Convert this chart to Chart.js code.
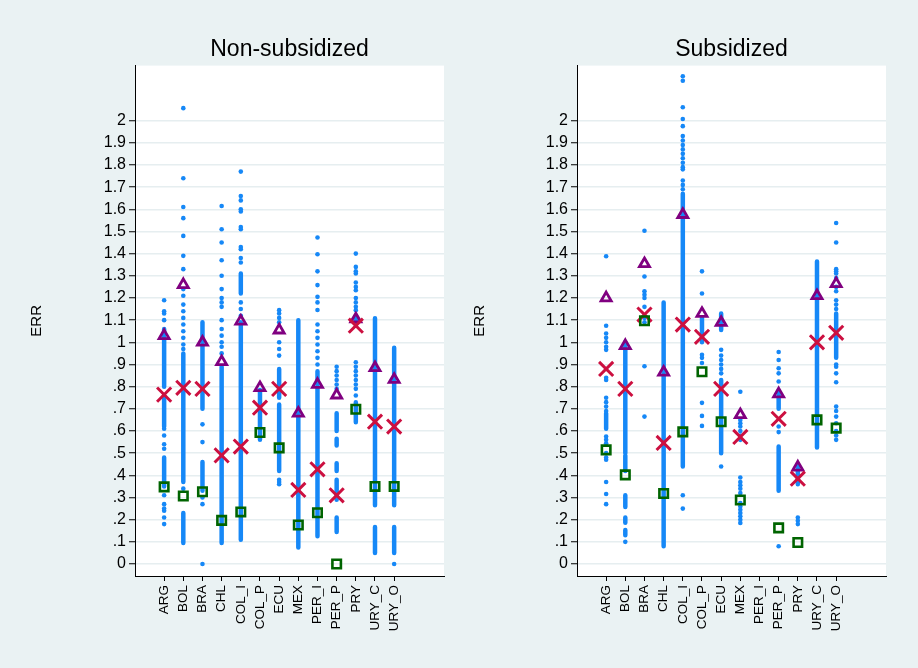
<!DOCTYPE html>
<html lang="en">
<head>
    <meta charset="UTF-8">
    <title>ERR by country</title>
    <script src="https://cdn.jsdelivr.net/npm/chart.js@4.4.1/dist/chart.umd.min.js"></script>
    <style>
        body {
            margin: 0;
            background: #eaf2f3;
        }

        .wrap {
            position: relative;
            width: 918px;
            height: 668px;
            background: #eaf2f3;
        }

        .wrap canvas {
            position: absolute;
            top: 0;
        }
    </style>
</head>
<body>
    <div class="wrap">
        <canvas id="left" width="459" height="668" style="left:0"></canvas>
        <canvas id="right" width="459" height="668" style="left:459px"></canvas>
    </div>

    <script>
        const categories = ['ARG', 'BOL', 'BRA', 'CHL', 'COL_I', 'COL_P', 'ECU', 'MEX', 'PER_I', 'PER_P', 'PRY', 'URY_C', 'URY_O'];
        const yTicks = [0, 0.1, 0.2, 0.3, 0.4, 0.5, 0.6, 0.7, 0.8, 0.9, 1, 1.1, 1.2, 1.3, 1.4, 1.5, 1.6, 1.7, 1.8, 1.9, 2];
        const yLabels = ['0', '.1', '.2', '.3', '.4', '.5', '.6', '.7', '.8', '.9', '1', '1.1', '1.2', '1.3', '1.4', '1.5', '1.6', '1.7', '1.8', '1.9', '2'];

        // Non-subsidized
        const nsTriangle = [1.03, 1.26, 1.00, 0.912, 1.095, 0.795, 1.055, 0.68, 0.81, 0.762, 1.105, 0.885, 0.832];
        const nsCross = [0.764, 0.795, 0.79, 0.49, 0.53, 0.705, 0.79, 0.334, 0.427, 0.31, 1.075, 0.642, 0.62];
        const nsSquare = [0.348, 0.307, 0.326, 0.197, 0.235, 0.593, 0.524, 0.176, 0.231, 0.0, 0.698, 0.35, 0.35];
        // dense runs of observations, [low, high]
        const nsRuns = [
            [[0.80, 1.06], [0.62, 0.76], [0.35, 0.48]],
            [[0.37, 0.95], [0.095, 0.23]],
            [[0.70, 1.09], [0.33, 0.46]],
            [[0.095, 0.89]],
            [[0.11, 1.09], [1.22, 1.31]],
            [[0.56, 0.785]],
            [[0.75, 0.88], [0.42, 0.72]],
            [[0.075, 1.10]],
            [[0.125, 0.87]],
            [[0.60, 0.68], [0.535, 0.565], [0.42, 0.455], [0.29, 0.38], [0.145, 0.21]],
            [[0.64, 0.73], [1.09, 1.12]],
            [[0.265, 1.108], [0.05, 0.167]],
            [[0.265, 0.975], [0.05, 0.167]]
        ];
        // separate observations
        const nsObs = [
            [1.19, 1.14, 1.13, 1.10, 0.61, 0.58, 0.54, 0.52, 0.31, 0.27, 0.25, 0.24, 0.21, 0.18],
            [2.056, 1.74, 1.61, 1.56, 1.48, 1.39, 1.33, 1.24, 1.21, 1.17, 1.14, 1.11, 1.08, 1.05, 1.02, 0.99, 0.97, 0.34],
            [0.63, 0.55, 0.30, 0.27, 0.0],
            [1.615, 1.51, 1.45, 1.37, 1.30, 1.24, 1.20, 1.18, 1.16, 1.10, 1.06, 1.03, 1.0, 0.98, 0.95],
            [1.77, 1.66, 1.64, 1.60, 1.59, 1.52, 1.51, 1.43, 1.42, 1.38, 1.36, 1.18, 1.15, 1.12],
            [],
            [1.145, 1.13, 1.11, 1.09, 1.0, 0.97, 0.94, 0.38, 0.37, 0.36],
            [],
            [1.473, 1.397, 1.32, 1.258, 1.205, 1.18, 1.146, 1.08, 1.05, 1.02, 0.99, 0.96, 0.93, 0.90],
            [0.89, 0.87, 0.85, 0.83, 0.81, 0.79],
            [1.40, 1.34, 1.32, 1.31, 1.27, 1.25, 1.235, 1.20, 1.18, 1.16, 1.145, 0.91, 0.89, 0.87, 0.85, 0.83, 0.81, 0.79, 0.76],
            [],
            [0.0]
        ];

        // Subsidized
        const sTriangle = [1.2, 0.985, 1.354, 0.865, 1.576, 1.13, 1.089, 0.673, null, 0.767, 0.437, 1.21, 1.264];
        const sCross = [0.88, 0.79, 1.125, 0.546, 1.08, 1.025, 0.79, 0.573, null, 0.655, 0.385, 1.0, 1.043];
        const sSquare = [0.515, 0.402, 1.097, 0.318, 0.596, 0.867, 0.642, 0.289, null, 0.163, 0.097, 0.65, 0.613];
        const sRuns = [
            [[0.61, 0.68]],
            [[0.50, 1.0], [0.42, 0.49], [0.257, 0.31], [0.186, 0.21], [0.13, 0.153]],
            [],
            [[0.08, 1.18]],
            [[0.44, 1.58], [1.60, 1.67]],
            [[1.0, 1.11]],
            [[1.056, 1.13], [0.50, 0.83]],
            [],
            [],
            [[0.70, 0.78], [0.33, 0.53]],
            [[0.36, 0.45]],
            [[0.525, 1.365]],
            [[0.93, 1.13]]
        ];
        const sObs = [
            [1.388, 1.075, 1.04, 1.02, 1.0, 0.98, 0.966, 0.84, 0.83, 0.75, 0.73, 0.71, 0.69, 0.575, 0.56, 0.545, 0.50, 0.48, 0.47, 0.37, 0.316, 0.27],
            [0.1],
            [1.503, 1.297, 1.23, 1.215, 1.2, 1.16, 1.11, 1.09, 0.892, 0.665],
            [],
            [2.20, 2.18, 2.06, 2.007, 1.975, 1.93, 1.91, 1.89, 1.87, 1.85, 1.83, 1.81, 1.79, 1.78, 1.73, 1.71, 1.69, 0.31, 0.25],
            [1.32, 1.22, 0.944, 0.93, 0.907, 0.727, 0.668, 0.623],
            [0.966, 0.94, 0.92, 0.90, 0.88, 0.86, 0.44],
            [0.777, 0.65, 0.635, 0.62, 0.60, 0.58, 0.56, 0.39, 0.37, 0.355, 0.34, 0.32, 0.275, 0.26, 0.245, 0.23, 0.215, 0.2, 0.185],
            [],
            [0.956, 0.92, 0.883, 0.86, 0.823, 0.62, 0.595, 0.08],
            [0.21, 0.195, 0.18],
            [],
            [1.538, 1.45, 1.33, 1.32, 1.31, 1.29, 1.25, 1.23, 1.19, 1.17, 1.15, 0.90, 0.89, 0.86, 0.82, 0.71, 0.69, 0.665, 0.635, 0.60, 0.58, 0.56]
        ];

        const BLUE = '#1688f7';
        const FONT = 'Liberation Sans, Arial, sans-serif';

        const plotBg = {
            id: 'plotBg',
            beforeDraw(chart) {
                const a = chart.chartArea;
                const ctx = chart.ctx;
                ctx.save();
                ctx.fillStyle = '#ffffff';
                ctx.fillRect(a.left, a.top, a.right - a.left, a.bottom - a.top);
                ctx.restore();
            }
        };

        function runPoints(runs) {
            const pts = [];
            runs.forEach((list, i) => {
                list.forEach(r => {
                    pts.push({ x: i + 1, y: r[0] }, { x: i + 1, y: r[1] }, { x: i + 1, y: null });
                });
            });
            return pts;
        }

        function obsPoints(obs) {
            const pts = [];
            obs.forEach((list, i) => list.forEach(v => pts.push({ x: i + 1, y: v })));
            return pts;
        }

        function markPoints(vals) {
            return vals.map((v, i) => ({ x: i + 1, y: v })).filter(p => p.y !== null);
        }

        function makePanel(id, title, runs, obs, tri, crs, sq, padLeft, axisWidth, padRight) {
            const ctx = document.getElementById(id).getContext('2d');
            return new Chart(ctx, {
                type: 'scatter',
                data: {
                    datasets: [
                        {
                            type: 'line', data: runPoints(runs), borderColor: BLUE, borderWidth: 4.5,
                            borderCapStyle: 'round', pointRadius: 0, spanGaps: false, order: 5
                        },
                        {
                            data: obsPoints(obs), backgroundColor: BLUE, borderWidth: 0,
                            pointRadius: 2.3, order: 4
                        },
                        {
                            data: markPoints(tri), pointStyle: 'triangle', pointRadius: 5.8,
                            borderColor: '#800080', borderWidth: 2.8, backgroundColor: 'rgba(0,0,0,0)', order: 3
                        },
                        {
                            data: markPoints(crs), pointStyle: 'crossRot', pointRadius: 10,
                            borderColor: '#cc1040', borderWidth: 3, order: 2
                        },
                        {
                            data: markPoints(sq), pointStyle: 'rect', pointRadius: 6,
                            borderColor: '#006400', borderWidth: 2.6, backgroundColor: 'rgba(0,0,0,0)', order: 1
                        }
                    ]
                },
                options: {
                    responsive: false,
                    animation: false,
                    layout: { padding: { left: padLeft, right: padRight, top: 30, bottom: 0 } },
                    plugins: {
                        legend: { display: false },
                        tooltip: { enabled: false },
                        title: {
                            display: true, text: title, fullSize: false, color: '#000',
                            font: { family: FONT, size: 23, weight: 'normal' },
                            padding: { top: 6, bottom: 2 }
                        }
                    },
                    scales: {
                        x: {
                            type: 'linear', min: -0.52, max: 15.6,
                            afterBuildTicks: s => { s.ticks = categories.map((c, i) => ({ value: i + 1 })); },
                            afterFit: s => { s.height = 92; },
                            ticks: {
                                autoSkip: false, minRotation: 90, maxRotation: 90, padding: 4, color: '#000',
                                font: { family: FONT, size: 13.5 },
                                callback: (v, i) => categories[i]
                            },
                            grid: { drawOnChartArea: false, tickColor: '#000', tickLength: 5 },
                            border: { color: '#000', width: 1 }
                        },
                        y: {
                            min: -0.054, max: 2.248,
                            afterBuildTicks: s => { s.ticks = yTicks.map(v => ({ value: v })); },
                            afterFit: s => { s.width = axisWidth; },
                            ticks: {
                                autoSkip: false, padding: 3, color: '#000',
                                font: { family: FONT, size: 16 },
                                callback: (v, i) => yLabels[i]
                            },
                            grid: { color: '#e6eef0', lineWidth: 1.5, tickColor: '#000', tickLength: 6, tickWidth: 1 },
                            border: { color: '#000', width: 1 },
                            title: {
                                display: true, text: 'ERR', color: '#000',
                                font: { family: FONT, size: 15 }, padding: { top: 0, bottom: 0 }
                            }
                        }
                    }
                },
                plugins: [plotBg]
            });
        }

        makePanel('left', 'Non-subsidized', nsRuns, nsObs, nsTriangle, nsCross, nsSquare, 28, 107, 15);
        makePanel('right', 'Subsidized', sRuns, sObs, sTriangle, sCross, sSquare, 12, 106, 32);
    </script>
</body>
</html>
